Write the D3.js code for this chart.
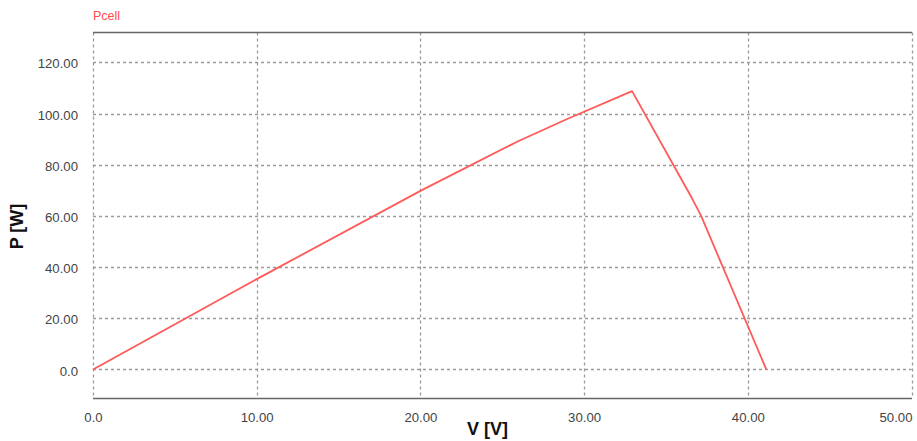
<!DOCTYPE html>
<html>
<head>
<meta charset="utf-8">
<script src="https://cdn.jsdelivr.net/npm/d3@7"></script>
<style>
  html, body { margin: 0; padding: 0; background: #fff; }
  svg { display: block; }
</style>
</head>
<body>
<svg id="chart" width="917" height="441"></svg>
<script>
// ---- data ----
const seriesName = "Pcell";
const voltage = [0, 10, 20, 26, 29, 32.93, 36.6, 37.15, 41.13];
const power   = [0, 35.3, 69.8, 89.3, 98.0, 108.8, 66.8, 60.0, 0];
const xTicks = [0, 10, 20, 30, 40, 50];
const xTickLabels = ["0.0", "10.00", "20.00", "30.00", "40.00", "50.00"];
const yTicks = [0, 20, 40, 60, 80, 100, 120];
const yTickLabels = ["0.0", "20.00", "40.00", "60.00", "80.00", "100.00", "120.00"];
const xTitle = "V [V]";
const yTitle = "P [W]";

(function () {
// ---- layout ----
const svg = d3.select("#chart");
const pLeft = 93, pRight = 911.5, pTop = 32.5, pBottom = 398.5;

const x = d3.scaleLinear().domain([0, 50]).range([pLeft, pRight]);
const y = d3.scaleLinear().domain([-11.35, 131.7]).range([pBottom, pTop]);

// grid
const grid = svg.append("g").attr("stroke", "#9a9a9a").attr("stroke-width", 1.3)
  .attr("stroke-dasharray", "3,3");
grid.selectAll("line.h").data(yTicks).join("line").attr("class", "h")
  .attr("x1", pLeft).attr("x2", pRight)
  .attr("y1", d => Math.round(y(d)) + 0.5).attr("y2", d => Math.round(y(d)) + 0.5);
grid.selectAll("line.v").data(xTicks).join("line").attr("class", "v")
  .attr("y1", pTop).attr("y2", pBottom)
  .attr("x1", d => Math.round(x(d)) + 0.5).attr("x2", d => Math.round(x(d)) + 0.5);

// frame top/bottom solid
svg.append("line").attr("x1", pLeft).attr("x2", pRight + 0.5).attr("y1", pTop).attr("y2", pTop)
  .attr("stroke", "#666").attr("stroke-width", 1.6);
svg.append("line").attr("x1", pLeft).attr("x2", pRight + 0.5).attr("y1", pBottom).attr("y2", pBottom)
  .attr("stroke", "#666").attr("stroke-width", 1.6);

// axes tick labels via d3 axes
const xAxis = d3.axisBottom(x).tickValues(xTicks)
  .tickFormat((d, i) => xTickLabels[i]).tickSize(0).tickPadding(0);
const gx = svg.append("g").attr("transform", `translate(0,${pBottom})`).call(xAxis);
gx.select(".domain").remove();
gx.selectAll("text").attr("dy", null).attr("y", 23.5)
  .attr("font-family", "Liberation Sans, Arial, sans-serif").attr("font-size", 13.2)
  .attr("fill", "#444");
// last label is right-aligned to the plot edge, as in the reference
gx.selectAll(".tick").filter((d, i) => i === xTicks.length - 1)
  .select("text").attr("text-anchor", "end").attr("x", 0.5);

const yAxis = d3.axisLeft(y).tickValues(yTicks)
  .tickFormat((d, i) => yTickLabels[i]).tickSize(0).tickPadding(0);
const gy = svg.append("g").attr("transform", `translate(${pLeft - 15},0)`).call(yAxis);
gy.select(".domain").remove();
gy.selectAll("text").attr("dy", "0.42em").attr("x", 0)
  .attr("font-family", "Liberation Sans, Arial, sans-serif").attr("font-size", 13.2)
  .attr("fill", "#444");

// line
const pts = voltage.map((v, i) => [v, power[i]]);
svg.append("path").datum(pts)
  .attr("fill", "none").attr("stroke", "#ff5a5a").attr("stroke-width", 1.8)
  .attr("stroke-linejoin", "round")
  .attr("d", d3.line().x(d => x(d[0])).y(d => y(d[1])));

// legend label
svg.append("text").attr("x", pLeft).attr("y", 20)
  .attr("font-family", "Liberation Sans, Arial, sans-serif").attr("font-size", 12.5)
  .attr("fill", "#ff4a4a").text(seriesName);

// axis titles
svg.append("text").attr("x", 487.5).attr("y", 435)
  .attr("text-anchor", "middle")
  .attr("font-family", "Liberation Sans, Arial, sans-serif").attr("font-size", 18)
  .attr("font-weight", "bold").attr("fill", "#111").text(xTitle);
svg.append("text").attr("transform", "translate(23,226.5) rotate(-90)")
  .attr("text-anchor", "middle")
  .attr("font-family", "Liberation Sans, Arial, sans-serif").attr("font-size", 18)
  .attr("font-weight", "bold").attr("fill", "#111").text(yTitle);
})();
</script>
</body>
</html>
